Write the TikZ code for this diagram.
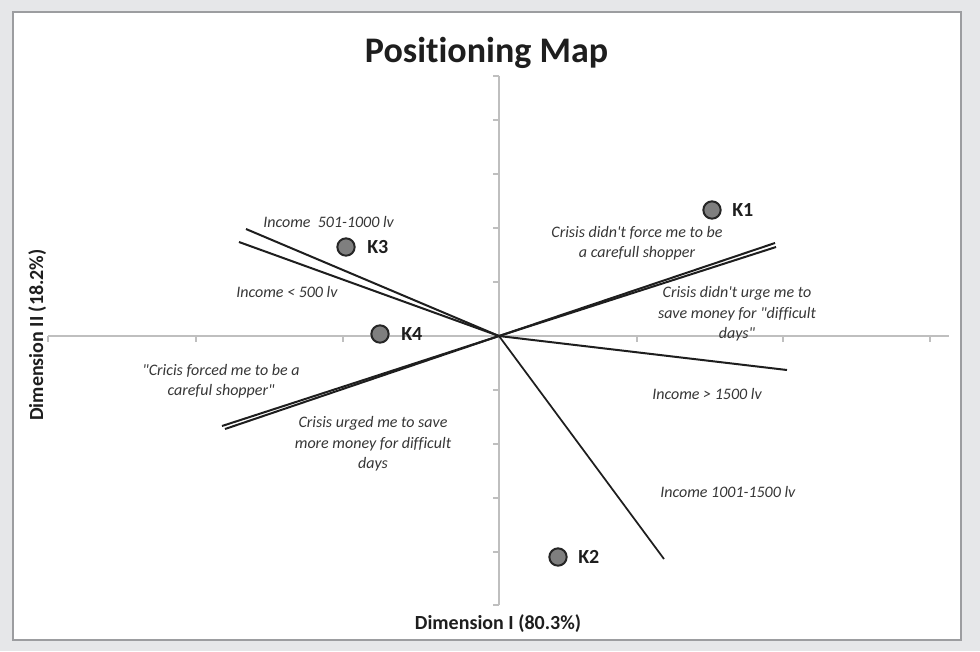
\documentclass[tikz,border=0pt]{standalone}
\usepackage{fontspec}
\newfontfamily\calib{Carlito}[Ligatures=NoCommon]
\definecolor{bgcol}{HTML}{E6E7E9}
\definecolor{panelcol}{HTML}{9C9DA0}
\definecolor{axiscol}{HTML}{BFBFBF}
\definecolor{veccol}{HTML}{1E1E1E}
\definecolor{labcol}{HTML}{363636}
\definecolor{dotfill}{HTML}{7F7F7F}
\definecolor{dotline}{HTML}{262626}
\begin{document}
\begin{tikzpicture}[x=0.75pt,y=-0.75pt,
  panel/.style={draw=panelcol,line width=1.5pt,fill=white},
  axisline/.style={draw=axiscol,line width=0.9pt},
  vec/.style={draw=veccol,line width=1.5pt},
  dot/.style={circle,fill=dotfill,draw=dotline,line width=1.5pt,minimum size=13pt,inner sep=0pt},
  klab/.style={font=\calib\bfseries\fontsize{15}{18}\selectfont,text=veccol,inner sep=0pt,anchor=west},
  lab/.style={font=\calib\itshape\fontsize{12}{15.4}\selectfont,text=labcol,inner sep=0pt,align=center},
  titlelab/.style={font=\calib\bfseries\fontsize{27}{32}\selectfont,text=veccol,inner sep=0pt},
  dimlab/.style={font=\calib\bfseries\fontsize{15}{18}\selectfont,text=veccol,inner sep=0pt}
]
\useasboundingbox (0,0) rectangle (980,651);
\fill[bgcol] (0,0) rectangle (980,651);
\draw[panel] (12.5,11.5) rectangle (961,639.5);

% axes
\draw[axisline] (48,336) -- (949,336);
\draw[axisline] (499,76) -- (499,605);
\foreach \x in {48,196,343,637,783,930} \draw[axisline] (\x,336) -- (\x,342);
\foreach \y in {76,120,174,228,282,390,444,498,552,605} \draw[axisline] (493,\y) -- (499,\y);

% title and axis labels
\node[titlelab,anchor=base] (title) at (486.5,62) {Positioning Map};
\node[dimlab,anchor=base] (dimI) at (498,629) {Dimension I (80.3\%)};
\node[dimlab,rotate=90,anchor=base] (dimII) at (43,335) {Dimension II (18.2\%)};

% vectors
\coordinate (O) at (499,336);
\coordinate (e1) at (246,229);
\coordinate (e2) at (239,242);
\coordinate (e3a) at (775,243);
\coordinate (e3b) at (776,247);
\coordinate (e4) at (787,370);
\coordinate (e5) at (664,559);
\coordinate (e6a) at (222,426);
\coordinate (e6b) at (225,429);
\draw[vec] (O) -- (e1);
\draw[vec] (O) -- (e2);
\draw[vec] (O) -- (e3a);
\draw[vec] (O) -- (e3b);
\draw[vec] (O) -- (e4);
\draw[vec,line width=1.3pt] (O) -- (e5);
\draw[vec] (O) -- (e6a);
\draw[vec] (O) -- (e6b);

% points
\node[dot] (K1) at (712,210) {};
\node[dot] (K3) at (346,247) {};
\node[dot] (K4) at (380,334) {};
\node[dot] (K2) at (558,557) {};
\node[klab] (K1l) at (732,210) {K1};
\node[klab] (K3l) at (367,247) {K3};
\node[klab] (K4l) at (401,334) {K4};
\node[klab] (K2l) at (578,557) {K2};

% vector labels
\node[lab,anchor=west] (l1) at (263,222) {Income\ \ 501-1000 lv};
\node[lab,anchor=west] (l2) at (236,292) {Income < 500 lv};
\node[lab] (l3) at (637,243) {Crisis didn't force me to be\\a carefull shopper};
\node[lab] (l4) at (737,314) {Crisis didn't urge me to\\save money for "difficult\\days"};
\node[lab] (l5) at (221,381) {"Cricis forced me to be a\\careful shopper"};
\node[lab] (l6) at (373,444) {Crisis urged me to save\\more money for difficult\\days};
\node[lab] (l7) at (707,394) {Income > 1500 lv};
\node[lab,anchor=west] (l8) at (660,492) {Income 1001-1500 lv};
\end{tikzpicture}
\end{document}
